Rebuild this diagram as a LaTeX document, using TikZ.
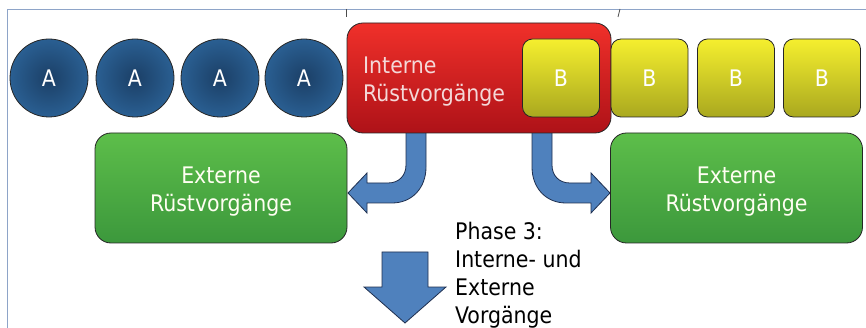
\documentclass[tikz,border=0pt]{standalone}
\usepackage{fontspec}
\setmainfont{DejaVu Sans Condensed}
\definecolor{cin}{HTML}{1B3F66}
\definecolor{cout}{HTML}{2A5F92}
\definecolor{rtop}{HTML}{F0302A}
\definecolor{rmid}{HTML}{E02622}
\definecolor{rbot}{HTML}{AE1218}
\definecolor{rtext}{HTML}{F4D8D8}
\definecolor{ytop}{HTML}{F5EF2E}
\definecolor{ymid}{HTML}{DEDB28}
\definecolor{ybot}{HTML}{A9A81F}
\definecolor{gtop}{HTML}{5DBE4A}
\definecolor{gmid}{HTML}{4CB847}
\definecolor{gbot}{HTML}{3C983C}
\definecolor{arrfill}{HTML}{4F81BD}
\definecolor{arrdraw}{HTML}{1F2F4F}
\definecolor{frame}{HTML}{8EA4C8}
\tikzset{
  txt/.style={font=\fontsize{22.8}{28}\selectfont},
  circA/.style={circle, draw=black!85, line width=0.8pt, inner color=cin, outer color=cout,
     minimum size=78pt, inner sep=0pt, outer sep=0pt, text=white, txt},
  boxB/.style={rectangle, rounded corners=10pt, draw=black!85, line width=0.8pt,
     top color=ytop, middle color=ymid, bottom color=ybot, minimum width=77pt, minimum height=78pt,
     inner sep=0pt, outer sep=0pt, text=white, txt},
  boxR/.style={rectangle, rounded corners=16pt, draw=black!85, line width=0.8pt,
     top color=rtop, middle color=rmid, bottom color=rbot, minimum width=264pt, minimum height=110pt,
     inner sep=0pt, outer sep=0pt},
  boxG/.style={rectangle, rounded corners=16pt, draw=black!85, line width=0.8pt,
     top color=gtop, middle color=gmid, bottom color=gbot, minimum width=252pt, minimum height=110pt,
     inner sep=0pt, outer sep=0pt},
  gtext/.style={text=white!95!yellow, txt, align=center, inner sep=0pt},
  barrow/.style={fill=arrfill, draw=arrdraw, line width=0.8pt, line join=miter},
  frameline/.style={draw=frame, line width=0.8pt},
}
\begin{document}
\begin{tikzpicture}[x=1pt,y=-1pt]
\useasboundingbox (0,0) rectangle (866,328);
% frame
\draw[frameline] (866,9) -- (7,9) -- (7,328);
\draw[black!70, line width=0.8pt] (346,9) -- (346,17);
\draw[black!70, line width=0.8pt] (620,9) -- (618,17);
% curved arrows (drawn below the boxes)
\draw[barrow] (406,130) -- (406,165) .. controls (406,175.5) and (399,183) .. (388,183)
  -- (367,183) -- (367,173) -- (348,193) -- (367,213) -- (367,203) -- (392,203)
  .. controls (412,203) and (426,188) .. (426,167) -- (426,130) -- cycle;
\draw[barrow] (552,130) -- (552,165) .. controls (552,175.5) and (559,183) .. (570,183)
  -- (591,183) -- (591,173) -- (610,193) -- (591,213) -- (591,203) -- (566,203)
  .. controls (546,203) and (532,188) .. (532,167) -- (532,130) -- cycle;
% down arrow
\draw[barrow] (382,252) -- (428,252) -- (428,287) -- (446,287) -- (405,323)
  -- (364,287) -- (382,287) -- cycle;
% circles
\node[circA] (a1) at (49,78) {A};
\node[circA] (a2) at (135,78) {A};
\node[circA] (a3) at (220,78) {A};
\node[circA] (a4) at (304,78) {A};
% red box
\node[boxR] (red) at (479,78) {};
\node[txt, text=rtext, anchor=north west, align=left, inner sep=0pt] (redtxt) at (363,57) {Interne\\Rüstvorgänge};
% B boxes
\node[boxB] (b1) at (561,78) {B};
\node[boxB] (b2) at (649.5,78) {B};
\node[boxB] (b3) at (736,78) {B};
\node[boxB] (b4) at (822,78) {B};
% green boxes
\node[boxG] (g1) at (221,188) {};
\node[gtext] (g1t) at ([yshift=-4pt]g1.center) {Externe\\Rüstvorgänge};
\node[boxG] (g2) at (736.5,188) {};
\node[gtext] (g2t) at ([yshift=-4pt]g2.center) {Externe\\Rüstvorgänge};
% phase text
\node[txt, anchor=north west, align=left, inner sep=0pt] (phase) at (455,222)
  {Phase 3:\\Interne- und\\Externe\\Vorgänge};
\end{tikzpicture}
\end{document}
